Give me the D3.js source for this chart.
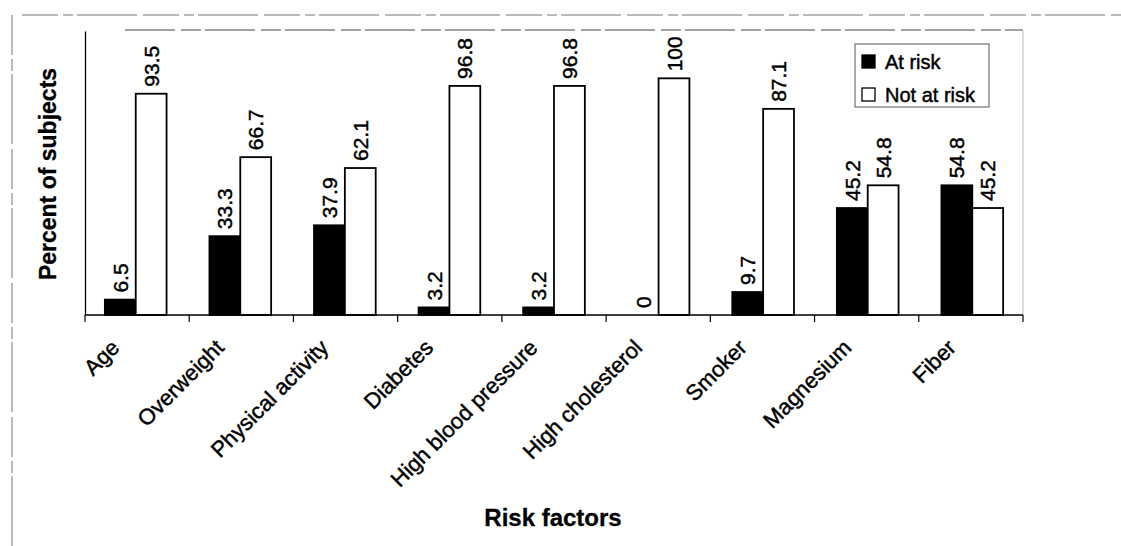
<!DOCTYPE html>
<html>
<head>
<meta charset="utf-8">
<script src="https://cdn.jsdelivr.net/npm/d3@7"></script>
<style>
  html, body { margin: 0; padding: 0; background: #fff; }
  svg { display: block; }
  text { font-family: "Liberation Sans", Arial, sans-serif; fill: #000; }
  text.heavy { stroke: #000; stroke-width: 0.45px; }
</style>
</head>
<body>
<svg id="chart" width="1121" height="546"></svg>
<script>
const categories = ["Age", "Overweight", "Physical activity", "Diabetes", "High blood pressure",
                    "High cholesterol", "Smoker", "Magnesium", "Fiber"];
const seriesNames = ["At risk", "Not at risk"];
const atRisk    = [6.5, 33.3, 37.9, 3.2, 3.2, 0, 9.7, 45.2, 54.8];
const notAtRisk = [93.5, 66.7, 62.1, 96.8, 96.8, 100, 87.1, 54.8, 45.2];
const valueLabels = {
  "At risk":     ["6.5", "33.3", "37.9", "3.2", "3.2", "0", "9.7", "45.2", "54.8"],
  "Not at risk": ["93.5", "66.7", "62.1", "96.8", "96.8", "100", "87.1", "54.8", "45.2"]
};
const yTitle = "Percent of subjects";
const xTitle = "Risk factors";

const seriesValues = { "At risk": atRisk, "Not at risk": notAtRisk };
const fills = { "At risk": "#000", "Not at risk": "#fff" };

const svg = d3.select("#chart");
const plot = { left: 85, right: 1023, top: 31, bottom: 315 };

const x0 = d3.scaleBand().domain(categories).range([plot.left, plot.right])
  .paddingInner(0.41).paddingOuter(0.19);
const x1 = d3.scaleBand().domain(seriesNames).range([0, x0.bandwidth()]).padding(0);
const y = d3.scaleLinear().domain([0, 120]).range([plot.bottom, plot.top]);

// Outer (chart area) frame, faint scanned look
svg.append("line").attr("x1", 22).attr("x2", 1121).attr("y1", 15).attr("y2", 15)
  .attr("stroke", "#777").attr("stroke-width", 1).attr("stroke-dasharray", "36 5 10 4 60 6");
svg.append("line").attr("x1", 12).attr("x2", 12).attr("y1", 15).attr("y2", 546)
  .attr("stroke", "#777").attr("stroke-width", 1).attr("stroke-dasharray", "40 4 12 3 70 5");

// Plot area frame (top and right)
svg.append("line").attr("x1", 125).attr("x2", plot.right).attr("y1", plot.top - 1).attr("y2", plot.top - 1)
  .attr("stroke", "#444").attr("stroke-width", 1).attr("stroke-dasharray", "50 6 20 4");
svg.append("line").attr("x1", plot.right).attr("x2", plot.right).attr("y1", plot.top).attr("y2", plot.bottom)
  .attr("stroke", "#bbb").attr("stroke-width", 1);

// Bars
const groups = svg.append("g").selectAll("g").data(categories).join("g")
  .attr("transform", d => `translate(${x0(d)},0)`);

const rowData = (d, i) => seriesNames.map(s => ({ s, v: seriesValues[s][i], lbl: valueLabels[s][i] }));

groups.selectAll("rect")
  .data(rowData)
  .join("rect")
  .attr("x", d => x1(d.s))
  .attr("y", d => y(d.v))
  .attr("width", x1.bandwidth())
  .attr("height", d => y(0) - y(d.v))
  .attr("fill", d => fills[d.s])
  .attr("stroke", "#000")
  .attr("stroke-width", d => d.v > 0 ? 1.8 : 0);

// Value labels (rotated)
groups.selectAll("text.val")
  .data(rowData)
  .join("text")
  .attr("class", "val heavy")
  .attr("transform", d => `translate(${x1(d.s) + x1.bandwidth() / 2},${y(d.v) - 7}) rotate(-90)`)
  .attr("dy", "0.36em")
  .attr("text-anchor", "start")
  .attr("font-size", 21)
  .text(d => d.lbl);

// Y axis (line only)
svg.append("g").attr("transform", `translate(${plot.left},0)`)
  .call(d3.axisLeft(y).tickValues([]).tickSizeOuter(0))
  .call(g => g.select(".domain").attr("stroke", "#000").attr("stroke-width", 1.3));

// X axis: line with ticks at category boundaries
const xAxisG = svg.append("g").attr("transform", `translate(0,${plot.bottom})`);
xAxisG.append("line").attr("x1", plot.left).attr("x2", plot.right).attr("y1", 0).attr("y2", 0)
  .attr("stroke", "#000").attr("stroke-width", 1.3);
const boundaries = d3.range(categories.length + 1).map(i => plot.left + i * (plot.right - plot.left) / categories.length);
xAxisG.selectAll("line.tick").data(boundaries).join("line").attr("class", "tick")
  .attr("x1", d => d).attr("x2", d => d).attr("y1", 0).attr("y2", 7)
  .attr("stroke", "#000").attr("stroke-width", 1.2);

// Category labels rotated -45
const catCenter = c => x0(c) + x0.bandwidth() / 2;
svg.append("g").selectAll("text").data(categories).join("text")
  .attr("class", "heavy")
  .attr("transform", c => `translate(${catCenter(c) - 15},${plot.bottom + 34}) rotate(-45)`)
  .attr("text-anchor", "end")
  .attr("font-size", 22)
  .text(c => c);

// Axis titles
svg.append("text")
  .attr("transform", `translate(${56},${(plot.top + plot.bottom) / 2 + 1}) rotate(-90)`)
  .attr("text-anchor", "middle")
  .attr("font-size", 23).attr("font-weight", "bold")
  .attr("stroke", "#000").attr("stroke-width", 0.3)
  .text(yTitle);

svg.append("text")
  .attr("x", 553).attr("y", 526)
  .attr("text-anchor", "middle")
  .attr("font-size", 24).attr("font-weight", "bold")
  .attr("stroke", "#000").attr("stroke-width", 0.3)
  .text(xTitle);

// Legend
const legend = svg.append("g").attr("transform", "translate(855,44)");
legend.append("rect").attr("x", 0).attr("y", 0).attr("width", 134).attr("height", 63)
  .attr("fill", "#fff").attr("stroke", "#555").attr("stroke-width", 1);
seriesNames.forEach((s, i) => {
  const gy = 18 + i * 33;
  legend.append("rect").attr("x", 7).attr("y", gy - 7).attr("width", 13).attr("height", 13)
    .attr("fill", fills[s]).attr("stroke", "#000").attr("stroke-width", 1.3);
  legend.append("text").attr("class", "heavy").attr("x", 30).attr("y", gy).attr("dy", "0.35em")
    .attr("font-size", 20).text(s);
});
</script>
</body>
</html>
